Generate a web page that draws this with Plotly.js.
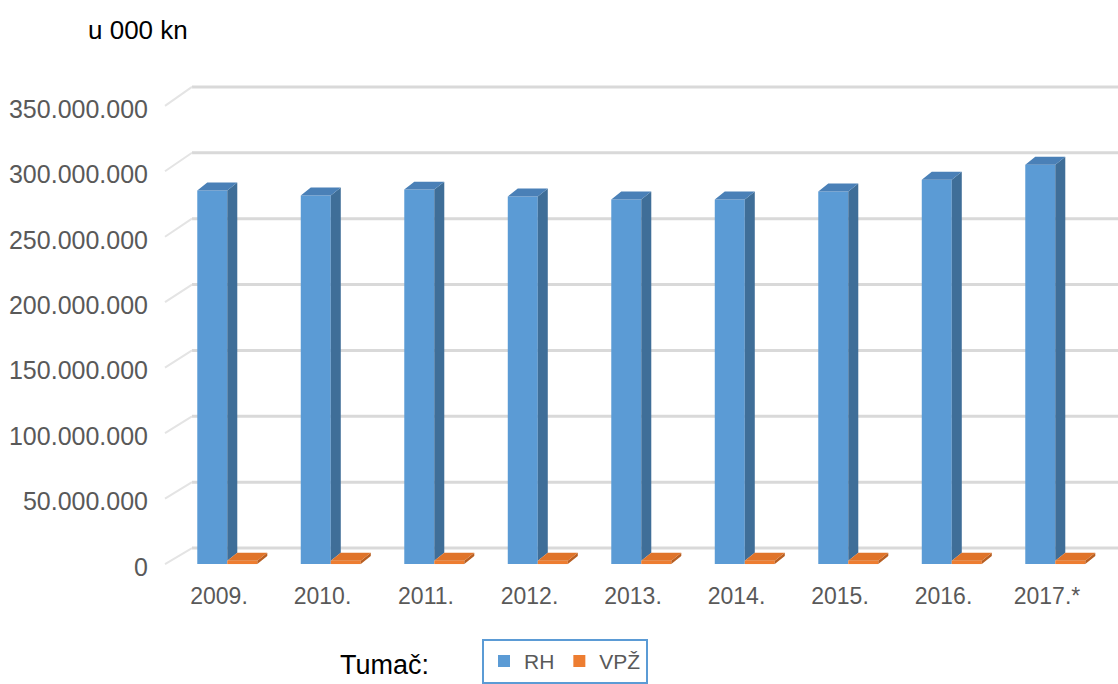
<!DOCTYPE html>
<html>
<head>
<meta charset="utf-8">
<script src="https://cdn.plot.ly/plotly-3.0.1.min.js"></script>
<style>html,body{margin:0;padding:0;background:#fff;}#chart{width:1118px;height:684px;}</style>
</head>
<body>
<div id="chart"></div>
<script>
// ---- data ----
const categories = ["2009.", "2010.", "2011.", "2012.", "2013.", "2014.", "2015.", "2016.", "2017.*"];
const rhValues  = [285300000, 281500000, 286000000, 280700000, 278500000, 278500000, 284500000, 293600000, 305000000];
const vpzValues = [2500000, 2500000, 2500000, 2500000, 2500000, 2500000, 2500000, 2500000, 2500000];
const yTickVals = [0, 50000000, 100000000, 150000000, 200000000, 250000000, 300000000, 350000000];
const yTickLabels = ["0", "50.000.000", "100.000.000", "150.000.000", "200.000.000", "250.000.000", "300.000.000", "350.000.000"];
const seriesNames = ["RH", "VPŽ"];

// ---- geometry / style (pixels) ----
const W = 1118, H = 684;
const mL = 165, mR = 0, mT = 60, mB = 104;
const plotW = W - mL - mR, plotH = H - mT - mB;
const pxPerCat = 103.5;           // px per category step
const firstCatPx = 219;           // px of category 0 label centre
const zeroPx = 566;               // px of value 0
const topRefPx = 106, topRefVal = 350000000;
const k = (zeroPx - topRefPx) / topRefVal;   // px per unit value
const xr0 = -(firstCatPx - mL) / pxPerCat;
const xr1 = xr0 + plotW / pxPerCat;
const yr0 = -((mT + plotH) - zeroPx) / k;
const yr1 = (zeroPx - mT) / k;

const barOffRH = -0.21, barOffV = 0.08, barW = 0.29;
const dx = 10 / pxPerCat, dy = 8 / k;      // 3D depth
// back wall (perspective): value 0 at px 550, top tick at px 87
const wallZeroPx = 550, wallTopPx = 87;
const kWall = (wallZeroPx - wallTopPx) / topRefVal;
const wallVal = v => (zeroPx - (wallZeroPx - v * kWall)) / k;
const wallX0 = (192 - mL) / plotW;         // back wall start (paper)
const sideX0 = 0;                          // side wall front edge (paper)

const xs = categories.map((c, i) => i);

function polys(builder) {
  const X = [], Y = [];
  xs.forEach((x, i) => {
    const p = builder(x, i);
    p.forEach(pt => { X.push(pt[0]); Y.push(pt[1]); });
    X.push(p[0][0]); Y.push(p[0][1]);
    X.push(null); Y.push(null);
  });
  return {X, Y};
}
function faceTrace(pp, color) {
  return {type: 'scatter', mode: 'lines', x: pp.X, y: pp.Y, fill: 'toself',
          fillcolor: color, line: {width: 0, color: color}, hoverinfo: 'skip',
          showlegend: false, connectgaps: false};
}

const blue = '#5b9bd5', blueSide = '#3f6e98', blueTop = '#4a80b7';
const orange = '#ed7d31', orangeSide = '#b85f22', orangeTop = '#e0742a';

const rhSide = polys((x, i) => {
  const xr = x + barOffRH + barW, b = vpzValues[i], v = rhValues[i];
  return [[xr, b], [xr + dx, b + dy], [xr + dx, v + dy], [xr, v]];
});
const rhTop = polys((x, i) => {
  const xl = x + barOffRH, xr = xl + barW, v = rhValues[i];
  return [[xl, v], [xr, v], [xr + dx, v + dy], [xl + dx, v + dy]];
});
const vSide = polys((x, i) => {
  const xr = x + barOffV + barW, v = vpzValues[i];
  return [[xr, 0], [xr + dx, dy], [xr + dx, v + dy], [xr, v]];
});
const vTop = polys((x, i) => {
  const xl = x + barOffV, xr = xl + barW, v = vpzValues[i];
  return [[xl, v], [xr, v], [xr + dx, v + dy], [xl + dx, v + dy]];
});

const traces = [
  {type: 'bar', name: seriesNames[0], x: xs, y: rhValues, offset: barOffRH, width: barW,
   marker: {color: blue, line: {width: 0}}, hoverinfo: 'skip'},
  {type: 'bar', name: seriesNames[1], x: xs, y: vpzValues, offset: barOffV, width: barW,
   marker: {color: orange, line: {width: 0}}, hoverinfo: 'skip'},
  faceTrace(rhSide, blueSide),
  faceTrace(rhTop, blueTop),
  faceTrace(vSide, orangeSide),
  faceTrace(vTop, orangeTop)
];

const shapes = [];
yTickVals.forEach(v => {
  shapes.push({type: 'line', layer: 'below', xref: 'paper', yref: 'y',
               x0: wallX0, x1: 1, y0: wallVal(v), y1: wallVal(v),
               line: {color: '#d9d9d9', width: 3}});
  shapes.push({type: 'line', layer: 'below', xref: 'paper', yref: 'y',
               x0: sideX0, x1: wallX0, y0: v, y1: wallVal(v),
               line: {color: '#e4e4e4', width: 2}});
});

const font = 'Liberation Sans, Arial, sans-serif';
const layout = {
  width: W, height: H,
  margin: {l: mL, r: mR, t: mT, b: mB, pad: 0},
  paper_bgcolor: '#ffffff', plot_bgcolor: '#ffffff',
  font: {family: font, color: '#595959'},
  showlegend: true,
  barmode: 'overlay',
  xaxis: {range: [xr0, xr1], tickvals: xs, ticktext: categories, showgrid: false,
          zeroline: false, showline: false, ticks: '', ticklabelstandoff: 2,
          tickfont: {family: font, size: 23, color: '#595959'}, fixedrange: true},
  yaxis: {range: [yr0, yr1], tickvals: yTickVals, ticktext: yTickLabels, showgrid: false,
          zeroline: false, showline: false, ticks: '', ticklabelstandoff: 16, ticklabelshift: 3,
          tickfont: {family: font, size: 25, color: '#595959'}, fixedrange: true},
  shapes: shapes,
  legend: {orientation: 'h', x: (482 - mL) / plotW, xanchor: 'left',
           y: -(641 - (mT + plotH)) / plotH, yanchor: 'top',
           bordercolor: '#5b9bd5', borderwidth: 2, bgcolor: '#ffffff',
           font: {family: font, size: 21, color: '#595959'}, traceorder: 'normal'},
  annotations: [
    {text: 'u 000 kn', xref: 'paper', yref: 'paper', x: (86 - mL) / plotW, xanchor: 'left',
     y: ((mT + plotH) - 30) / plotH, yanchor: 'middle', showarrow: false,
     font: {family: font, size: 26, color: '#000000'}},
    {text: 'Tumač:', xref: 'paper', yref: 'paper', x: (384 - mL) / plotW, xanchor: 'center',
     y: -(667 - (mT + plotH)) / plotH, yanchor: 'middle', showarrow: false,
     font: {family: font, size: 27, color: '#000000'}}
  ]
};

Plotly.newPlot('chart', traces, layout, {displayModeBar: false, staticPlot: true});
</script>
</body>
</html>
